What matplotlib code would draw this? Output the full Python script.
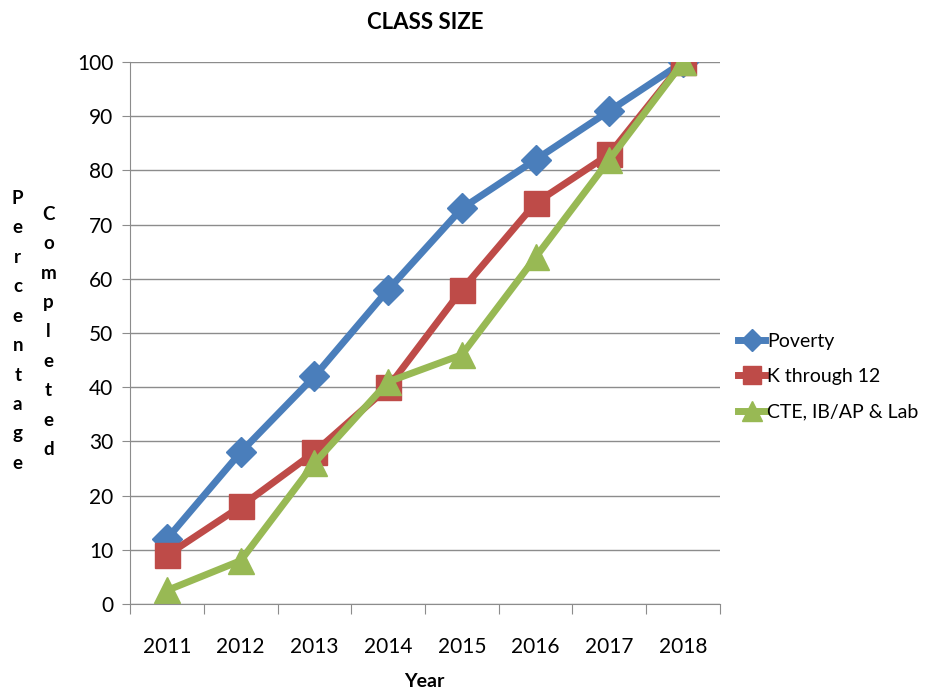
import matplotlib.pyplot as plt
import numpy as np

years = ["2011", "2012", "2013", "2014", "2015", "2016", "2017", "2018"]
poverty = [12, 28, 42, 58, 73, 82, 91, 100]
k_through_12 = [9, 18, 28, 40, 58, 74, 83, 100]
cte_ib_ap_lab = [2.5, 8, 26, 41, 46, 64, 82, 100]

plt.rcParams["font.family"] = ["Lato", "DejaVu Sans"]

fig = plt.figure(figsize=(9.32, 6.9), dpi=100)
ax = fig.add_axes([0.1395, 0.1246, 0.633, 0.7854])

x = np.arange(len(years))
ax.plot(x, poverty, color="#4A7EBB", lw=5, marker="D", ms=15, label="Poverty")
ax.plot(x, k_through_12, color="#BE4B48", lw=5, marker="s", ms=18, label="K through 12")
ax.plot(x, cte_ib_ap_lab, color="#98B954", lw=5, marker="^", ms=19, label="CTE, IB/AP & Lab")

ax.set_xlim(-0.5, len(years) - 0.5)
ax.set_ylim(0, 100)
ax.set_yticks(range(0, 101, 10))
ax.yaxis.grid(True, color="#8c8c8c", lw=1)
ax.set_axisbelow(True)

# category axis: ticks between categories, labels at centres
ax.set_xticks(np.arange(-0.5, len(years), 1))
ax.set_xticklabels([])
ax.set_xticks(x, minor=True)
ax.set_xticklabels(years, minor=True)
ax.tick_params(axis="x", which="major", length=7, color="#8c8c8c")
ax.tick_params(axis="x", which="minor", length=0, pad=24, labelsize=15)
ax.tick_params(axis="y", length=6, color="#8c8c8c", labelsize=15, pad=6)

for side in ["top", "right"]:
    ax.spines[side].set_visible(False)
for side in ["left", "bottom"]:
    ax.spines[side].set_color("#8c8c8c")

ax.set_title("CLASS SIZE", fontsize=16, fontweight="bold", pad=24)
fig.text(0.455, 0.012, "Year", fontsize=14, fontweight="bold", ha="center", va="center")

# stacked-letter y label, like the original
fig.text(0.019, 0.725, "\n".join("Percentage"), fontsize=13.5, fontweight="bold",
         ha="center", va="top", linespacing=1.89)
fig.text(0.052, 0.702, "\n".join("Completed"), fontsize=13.5, fontweight="bold",
         ha="center", va="top", linespacing=1.89)

fig.legend(loc="center left", bbox_to_anchor=(0.792, 0.454), frameon=False,
           fontsize=14, handlelength=1.4, handletextpad=0.1, labelspacing=0.95,
           markerscale=0.75, borderpad=0, borderaxespad=0)

plt.savefig("out.png", dpi=100)
plt.close()
